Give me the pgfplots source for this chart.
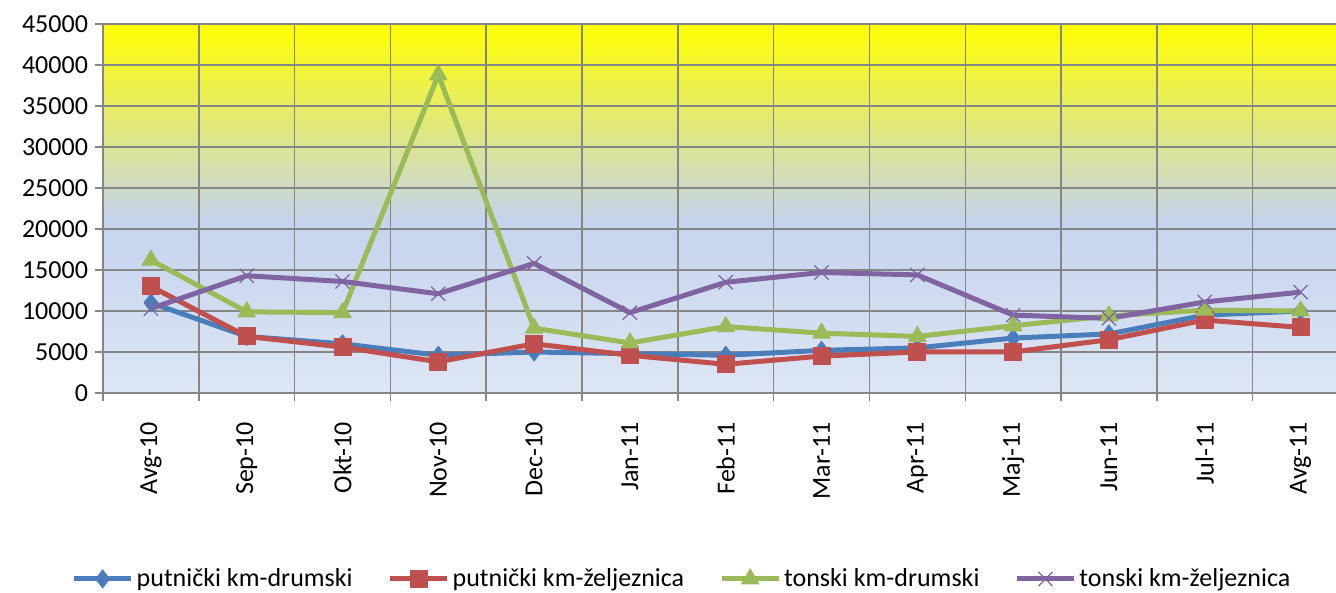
\documentclass[border=0pt]{standalone}
\usepackage{pgfplots}
\pgfplotsset{compat=1.18}
\usepackage{fontspec}
\setmainfont{Carlito}
\definecolor{sblue}{RGB}{74,126,187}
\definecolor{sred}{RGB}{192,80,77}
\definecolor{sgreen}{RGB}{155,187,89}
\definecolor{spurple}{RGB}{128,100,162}
\definecolor{gridgray}{RGB}{134,134,134}
\definecolor{bgbot}{RGB}{222,230,244}
\definecolor{bgblue}{RGB}{197,211,238}
\definecolor{bgtop}{RGB}{255,255,0}
\pgfdeclareverticalshading{chartbg}{100bp}{color(0bp)=(bgbot); color(25bp)=(bgbot); color(48.3bp)=(bgblue); color(75bp)=(bgtop); color(100bp)=(bgtop)}
\begin{document}
\begin{tikzpicture}
\path[use as bounding box] (0,0) rectangle (668pt,-296.5pt);
\begin{axis}[
  at={(51.5pt,-12pt)}, anchor=north west,
  scale only axis, width=616.5pt, height=184.5pt,
  xmin=-0.5, xmax=12.37, ymin=0, ymax=45000,
  axis background/.style={shading=chartbg},
  axis x line*=bottom, axis y line*=left,
  axis line style={gridgray, line width=0.75pt, -},
  tick align=outside,
  major tick length=4pt, minor tick length=4pt,
  tick style={gridgray, line width=0.75pt},
  ytick={0,5000,...,45000},
  scaled y ticks=false,
  ymajorgrids,
  grid style={gridgray, line width=0.75pt},
  xtick={0,...,12},
  xticklabels={Avg-10,Sep-10,Okt-10,Nov-10,Dec-10,Jan-11,Feb-11,Mar-11,Apr-11,Maj-11,Jun-11,Jul-11,Avg-11},
  major x tick style={draw=none},
  minor xtick={-0.5,0.5,...,11.5},
  xminorgrids,
  minor grid style={gridgray, line width=0.75pt},
  yticklabel style={font=\fontsize{13}{15}\selectfont, /pgf/number format/1000 sep={}, /pgf/number format/assume math mode=true},
  xticklabel style={rotate=90, anchor=east, font=\fontsize{13}{15}\selectfont},
  xticklabel shift=7pt,
  legend style={at={(0.47,-0.504)}, anchor=center, draw=none, fill=none,
    font=\fontsize{13}{15}\selectfont,
    /tikz/every even column/.append style={column sep=16pt},
    nodes={inner xsep=1.5pt}},
  legend columns=4,
  legend cell align=left,
  legend image code/.code={\draw[mark repeat=2,mark phase=2] plot coordinates {(0pt,0pt)(14.25pt,0pt)(28.5pt,0pt)};},
  every axis plot/.append style={line width=2.5pt, line join=round},
]
\addplot[sblue, mark=diamond*, mark size=4.5pt, mark options={solid, line width=0.5pt}] coordinates {
(0,11000) (1,6900) (2,6000) (3,4600) (4,5000) (5,4800) (6,4600) (7,5200) (8,5500) (9,6700) (10,7200) (11,9500) (12,10000)};
\addlegendentry{putnički km-drumski}
\addplot[sred, mark=square*, mark size=4.25pt, mark options={solid, line width=0.5pt}] coordinates {
(0,13000) (1,6900) (2,5600) (3,3800) (4,6000) (5,4600) (6,3500) (7,4500) (8,5000) (9,5000) (10,6500) (11,8900) (12,8000)};
\addlegendentry{putnički km-željeznica}
\addplot[sgreen, mark=triangle*, mark size=5pt, mark options={solid, line width=0.5pt}] coordinates {
(0,16200) (1,9900) (2,9800) (3,38800) (4,7900) (5,6100) (6,8100) (7,7300) (8,6900) (9,8200) (10,9400) (11,10100) (12,10000)};
\addlegendentry{tonski km-drumski}
\addplot[spurple, mark=x, mark size=5pt, mark options={solid, line width=0.6pt}] coordinates {
(0,10300) (1,14300) (2,13600) (3,12100) (4,15800) (5,9800) (6,13500) (7,14700) (8,14400) (9,9500) (10,9100) (11,11100) (12,12300)};
\addlegendentry{tonski km-željeznica}
\end{axis}
\end{tikzpicture}
\end{document}
